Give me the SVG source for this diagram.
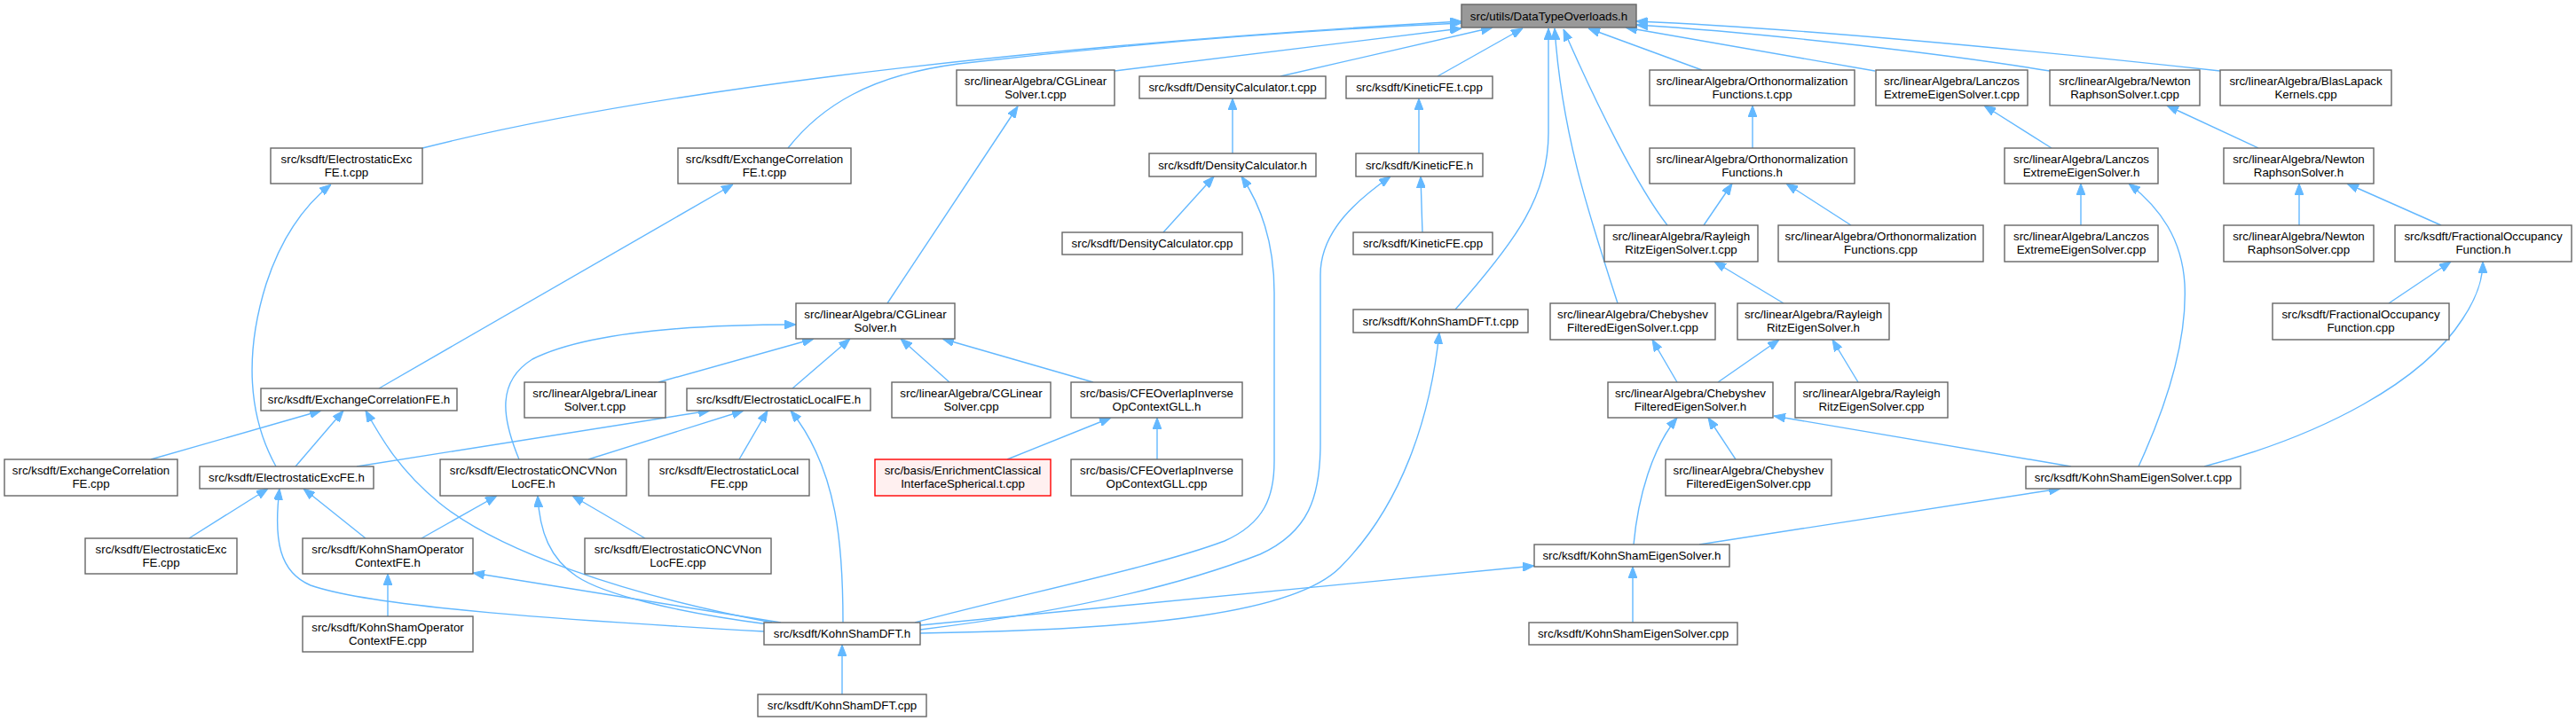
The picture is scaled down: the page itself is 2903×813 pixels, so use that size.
<svg xmlns="http://www.w3.org/2000/svg" width="2903" height="813" viewBox="0 0 2903 813">
<style>
.n rect{fill:#ffffff;stroke:#666666;stroke-width:1.4}
.n text{font-family:"Liberation Sans",Arial,Helvetica,sans-serif;font-size:13.3px;text-anchor:middle;fill:#000000}
#dto rect{fill:#999999}
#ecis rect{fill:#fff0f0;stroke:#ff0000}
.e path{fill:none;stroke:#63b8ff;stroke-width:1.4;marker-end:url(#ah)}
</style>
<defs>
<marker id="ah" markerUnits="userSpaceOnUse" viewBox="0 0 13 10" refX="13" refY="5" markerWidth="13" markerHeight="10" orient="auto">
<path d="M0,0 L13,5 L0,10 z" fill="#63b8ff" stroke="#63b8ff" stroke-width="1"/>
</marker>
</defs>
<rect width="2903" height="813" fill="#ffffff"/>
<g class="e" id="edges">
<path d="M476,167 C700,110 1100,55 1647,24"/>
<path d="M888,167 C925,120 980,85 1080,72 C1250,52 1450,35 1647,26"/>
<path d="M1256,80 L1647,32"/>
<path d="M1443,86 L1682,31"/>
<path d="M1620,86 L1716,32"/>
<path d="M1640,349 C1710,270 1745,220 1745,150 L1745,32"/>
<path d="M1823,342 C1790,240 1760,150 1752,32"/>
<path d="M1879,254 C1845,210 1800,120 1762,33"/>
<path d="M1918,79 L1790,32"/>
<path d="M2113,80 L1832,31"/>
<path d="M2310,80 C2200,62 2000,38 1844,28"/>
<path d="M2502,80 C2300,58 2050,33 1844,24"/>
<path d="M311,526 C280,470 275,400 300,320 C318,265 345,230 373,208"/>
<path d="M427,438 L826,208"/>
<path d="M1000,342 L1147,120"/>
<path d="M1389,173 L1389,111"/>
<path d="M1311,262 L1368,199"/>
<path d="M1031,702 C1150,670 1300,640 1380,610 C1425,590 1436,560 1436,520 L1436,330 C1436,270 1420,230 1399,199"/>
<path d="M1599,173 L1599,111"/>
<path d="M1603,262 L1601,199"/>
<path d="M1037,710 C1200,690 1330,660 1420,625 C1475,600 1488,560 1488,500 L1488,310 C1488,260 1530,225 1567,199"/>
<path d="M1037,714 C1300,710 1460,690 1510,640 C1580,570 1612,470 1622,375"/>
<path d="M1037,705 L1729,638"/>
<path d="M1915,614 L2322,551"/>
<path d="M1840,702 L1840,639"/>
<path d="M1841,614 C1846,560 1862,505 1890,471"/>
<path d="M1956,518 L1925,471"/>
<path d="M2334,526 L1999,469"/>
<path d="M2410,526 C2445,450 2465,380 2462,320 C2459,270 2435,235 2399,207"/>
<path d="M2484,526 C2620,490 2730,430 2775,360 C2795,330 2798,310 2798,295"/>
<path d="M2692,342 L2762,295"/>
<path d="M2751,254 L2645,207"/>
<path d="M2591,254 L2591,207"/>
<path d="M2545,167 L2442,119"/>
<path d="M2345,254 L2345,207"/>
<path d="M2312,167 L2236,119"/>
<path d="M1975,167 L1975,119"/>
<path d="M1920,254 L1952,207"/>
<path d="M2086,254 L2013,207"/>
<path d="M2010,342 L1932,295"/>
<path d="M1936,431 L2005,383"/>
<path d="M2094,431 L2065,383"/>
<path d="M1890,431 L1862,383"/>
<path d="M949,783 L949,727"/>
<path d="M170,518 L362,463"/>
<path d="M333,526 L387,463"/>
<path d="M870,702 C700,670 560,620 495,567 C450,530 430,495 412,463"/>
<path d="M402,526 L800,463"/>
<path d="M663,518 L838,463"/>
<path d="M833,518 L865,463"/>
<path d="M950,702 C950,620 945,530 891,463"/>
<path d="M893,438 L958,382"/>
<path d="M742,431 L917,382"/>
<path d="M585,518 C565,470 560,430 600,405 C660,375 780,366 897,366"/>
<path d="M1070,431 L1015,382"/>
<path d="M1232,431 L1062,382"/>
<path d="M1135,518 L1252,471"/>
<path d="M1304,518 L1304,471"/>
<path d="M412,607 L342,551"/>
<path d="M213,607 L302,551"/>
<path d="M861,712 C650,700 420,685 350,660 C315,645 308,610 315,551"/>
<path d="M437,695 L437,647"/>
<path d="M880,702 L533,646"/>
<path d="M475,607 L560,559"/>
<path d="M727,607 L645,559"/>
<path d="M866,704 C760,690 680,670 650,650 C620,630 608,600 606,559"/>
</g>
<g class="n" id="dto"><rect x="1647" y="5" width="197" height="26"/><text x="1745.5" y="22.5">src/utils/DataTypeOverloads.h</text></g>
<g class="n" id="excfet"><rect x="305" y="167" width="171" height="40"/><text x="390.5" y="183.5">src/ksdft/ElectrostaticExc</text><text x="390.5" y="198.5">FE.t.cpp</text></g>
<g class="n" id="xcfet"><rect x="764" y="167" width="195" height="40"/><text x="861.5" y="183.5">src/ksdft/ExchangeCorrelation</text><text x="861.5" y="198.5">FE.t.cpp</text></g>
<g class="n" id="cglst"><rect x="1078" y="79" width="178" height="40"/><text x="1167" y="95.5">src/linearAlgebra/CGLinear</text><text x="1167" y="110.5">Solver.t.cpp</text></g>
<g class="n" id="dct"><rect x="1284" y="86" width="210" height="25"/><text x="1389" y="103">src/ksdft/DensityCalculator.t.cpp</text></g>
<g class="n" id="kfet"><rect x="1517" y="86" width="165" height="25"/><text x="1599.5" y="103">src/ksdft/KineticFE.t.cpp</text></g>
<g class="n" id="oft"><rect x="1859" y="79" width="231" height="40"/><text x="1974.5" y="95.5">src/linearAlgebra/Orthonormalization</text><text x="1974.5" y="110.5">Functions.t.cpp</text></g>
<g class="n" id="let"><rect x="2114" y="79" width="171" height="40"/><text x="2199.5" y="95.5">src/linearAlgebra/Lanczos</text><text x="2199.5" y="110.5">ExtremeEigenSolver.t.cpp</text></g>
<g class="n" id="nrt"><rect x="2310" y="79" width="169" height="40"/><text x="2394.5" y="95.5">src/linearAlgebra/Newton</text><text x="2394.5" y="110.5">RaphsonSolver.t.cpp</text></g>
<g class="n" id="blk"><rect x="2502" y="79" width="193" height="40"/><text x="2598.5" y="95.5">src/linearAlgebra/BlasLapack</text><text x="2598.5" y="110.5">Kernels.cpp</text></g>
<g class="n" id="dch"><rect x="1295" y="173" width="188" height="26"/><text x="1389" y="190.5">src/ksdft/DensityCalculator.h</text></g>
<g class="n" id="kfeh"><rect x="1528" y="173" width="143" height="26"/><text x="1599.5" y="190.5">src/ksdft/KineticFE.h</text></g>
<g class="n" id="ofh"><rect x="1859" y="167" width="231" height="40"/><text x="1974.5" y="183.5">src/linearAlgebra/Orthonormalization</text><text x="1974.5" y="198.5">Functions.h</text></g>
<g class="n" id="leh"><rect x="2259" y="167" width="173" height="40"/><text x="2345.5" y="183.5">src/linearAlgebra/Lanczos</text><text x="2345.5" y="198.5">ExtremeEigenSolver.h</text></g>
<g class="n" id="nrh"><rect x="2506" y="167" width="169" height="40"/><text x="2590.5" y="183.5">src/linearAlgebra/Newton</text><text x="2590.5" y="198.5">RaphsonSolver.h</text></g>
<g class="n" id="dccpp"><rect x="1197" y="262" width="203" height="25"/><text x="1298.5" y="279">src/ksdft/DensityCalculator.cpp</text></g>
<g class="n" id="kfecpp"><rect x="1525" y="262" width="157" height="25"/><text x="1603.5" y="279">src/ksdft/KineticFE.cpp</text></g>
<g class="n" id="rrt"><rect x="1808" y="254" width="173" height="41"/><text x="1894.5" y="270.5">src/linearAlgebra/Rayleigh</text><text x="1894.5" y="285.5">RitzEigenSolver.t.cpp</text></g>
<g class="n" id="ofcpp"><rect x="2004" y="254" width="231" height="41"/><text x="2119.5" y="270.5">src/linearAlgebra/Orthonormalization</text><text x="2119.5" y="285.5">Functions.cpp</text></g>
<g class="n" id="lecpp"><rect x="2259" y="254" width="173" height="41"/><text x="2345.5" y="270.5">src/linearAlgebra/Lanczos</text><text x="2345.5" y="285.5">ExtremeEigenSolver.cpp</text></g>
<g class="n" id="nrcpp"><rect x="2506" y="254" width="169" height="41"/><text x="2590.5" y="270.5">src/linearAlgebra/Newton</text><text x="2590.5" y="285.5">RaphsonSolver.cpp</text></g>
<g class="n" id="fofh"><rect x="2699" y="254" width="199" height="41"/><text x="2798.5" y="270.5">src/ksdft/FractionalOccupancy</text><text x="2798.5" y="285.5">Function.h</text></g>
<g class="n" id="cglsh"><rect x="897" y="342" width="179" height="40"/><text x="986.5" y="358.5">src/linearAlgebra/CGLinear</text><text x="986.5" y="373.5">Solver.h</text></g>
<g class="n" id="ksdftt"><rect x="1525" y="349" width="197" height="26"/><text x="1623.5" y="366.5">src/ksdft/KohnShamDFT.t.cpp</text></g>
<g class="n" id="cfet"><rect x="1747" y="342" width="186" height="41"/><text x="1840" y="358.5">src/linearAlgebra/Chebyshev</text><text x="1840" y="373.5">FilteredEigenSolver.t.cpp</text></g>
<g class="n" id="rrh"><rect x="1958" y="342" width="171" height="41"/><text x="2043.5" y="358.5">src/linearAlgebra/Rayleigh</text><text x="2043.5" y="373.5">RitzEigenSolver.h</text></g>
<g class="n" id="fofcpp"><rect x="2561" y="342" width="199" height="41"/><text x="2660.5" y="358.5">src/ksdft/FractionalOccupancy</text><text x="2660.5" y="373.5">Function.cpp</text></g>
<g class="n" id="xcfeh"><rect x="294" y="438" width="221" height="25"/><text x="404.5" y="455">src/ksdft/ExchangeCorrelationFE.h</text></g>
<g class="n" id="lst"><rect x="591" y="431" width="159" height="40"/><text x="670.5" y="447.5">src/linearAlgebra/Linear</text><text x="670.5" y="462.5">Solver.t.cpp</text></g>
<g class="n" id="elfeh"><rect x="774" y="438" width="207" height="25"/><text x="877.5" y="455">src/ksdft/ElectrostaticLocalFE.h</text></g>
<g class="n" id="cglscpp"><rect x="1005" y="431" width="179" height="40"/><text x="1094.5" y="447.5">src/linearAlgebra/CGLinear</text><text x="1094.5" y="462.5">Solver.cpp</text></g>
<g class="n" id="cfeoh"><rect x="1207" y="431" width="193" height="40"/><text x="1303.5" y="447.5">src/basis/CFEOverlapInverse</text><text x="1303.5" y="462.5">OpContextGLL.h</text></g>
<g class="n" id="cfeh"><rect x="1812" y="431" width="186" height="40"/><text x="1905" y="447.5">src/linearAlgebra/Chebyshev</text><text x="1905" y="462.5">FilteredEigenSolver.h</text></g>
<g class="n" id="rrcpp"><rect x="2023" y="431" width="172" height="40"/><text x="2109" y="447.5">src/linearAlgebra/Rayleigh</text><text x="2109" y="462.5">RitzEigenSolver.cpp</text></g>
<g class="n" id="xcfecpp"><rect x="5" y="518" width="195" height="41"/><text x="102.5" y="534.5">src/ksdft/ExchangeCorrelation</text><text x="102.5" y="549.5">FE.cpp</text></g>
<g class="n" id="exfeh"><rect x="225" y="526" width="196" height="25"/><text x="323" y="543">src/ksdft/ElectrostaticExcFE.h</text></g>
<g class="n" id="oncvh"><rect x="496" y="518" width="210" height="41"/><text x="601" y="534.5">src/ksdft/ElectrostaticONCVNon</text><text x="601" y="549.5">LocFE.h</text></g>
<g class="n" id="elfecpp"><rect x="731" y="518" width="181" height="41"/><text x="821.5" y="534.5">src/ksdft/ElectrostaticLocal</text><text x="821.5" y="549.5">FE.cpp</text></g>
<g class="n" id="ecis"><rect x="986" y="518" width="198" height="41"/><text x="1085" y="534.5">src/basis/EnrichmentClassical</text><text x="1085" y="549.5">InterfaceSpherical.t.cpp</text></g>
<g class="n" id="cfeocpp"><rect x="1207" y="518" width="193" height="41"/><text x="1303.5" y="534.5">src/basis/CFEOverlapInverse</text><text x="1303.5" y="549.5">OpContextGLL.cpp</text></g>
<g class="n" id="cfecpp"><rect x="1877" y="518" width="187" height="41"/><text x="1970.5" y="534.5">src/linearAlgebra/Chebyshev</text><text x="1970.5" y="549.5">FilteredEigenSolver.cpp</text></g>
<g class="n" id="ksest"><rect x="2283" y="526" width="242" height="25"/><text x="2404" y="543">src/ksdft/KohnShamEigenSolver.t.cpp</text></g>
<g class="n" id="exfecpp"><rect x="96" y="607" width="171" height="40"/><text x="181.5" y="623.5">src/ksdft/ElectrostaticExc</text><text x="181.5" y="638.5">FE.cpp</text></g>
<g class="n" id="ksoch"><rect x="341" y="607" width="192" height="40"/><text x="437" y="623.5">src/ksdft/KohnShamOperator</text><text x="437" y="638.5">ContextFE.h</text></g>
<g class="n" id="oncvcpp"><rect x="659" y="607" width="210" height="40"/><text x="764" y="623.5">src/ksdft/ElectrostaticONCVNon</text><text x="764" y="638.5">LocFE.cpp</text></g>
<g class="n" id="ksesh"><rect x="1729" y="614" width="220" height="25"/><text x="1839" y="631">src/ksdft/KohnShamEigenSolver.h</text></g>
<g class="n" id="ksoccpp"><rect x="341" y="695" width="192" height="40"/><text x="437" y="711.5">src/ksdft/KohnShamOperator</text><text x="437" y="726.5">ContextFE.cpp</text></g>
<g class="n" id="ksdfth"><rect x="861" y="702" width="176" height="25"/><text x="949" y="719">src/ksdft/KohnShamDFT.h</text></g>
<g class="n" id="ksescpp"><rect x="1723" y="702" width="235" height="25"/><text x="1840.5" y="719">src/ksdft/KohnShamEigenSolver.cpp</text></g>
<g class="n" id="ksdftcpp"><rect x="854" y="783" width="190" height="25"/><text x="949" y="800">src/ksdft/KohnShamDFT.cpp</text></g>
</svg>
